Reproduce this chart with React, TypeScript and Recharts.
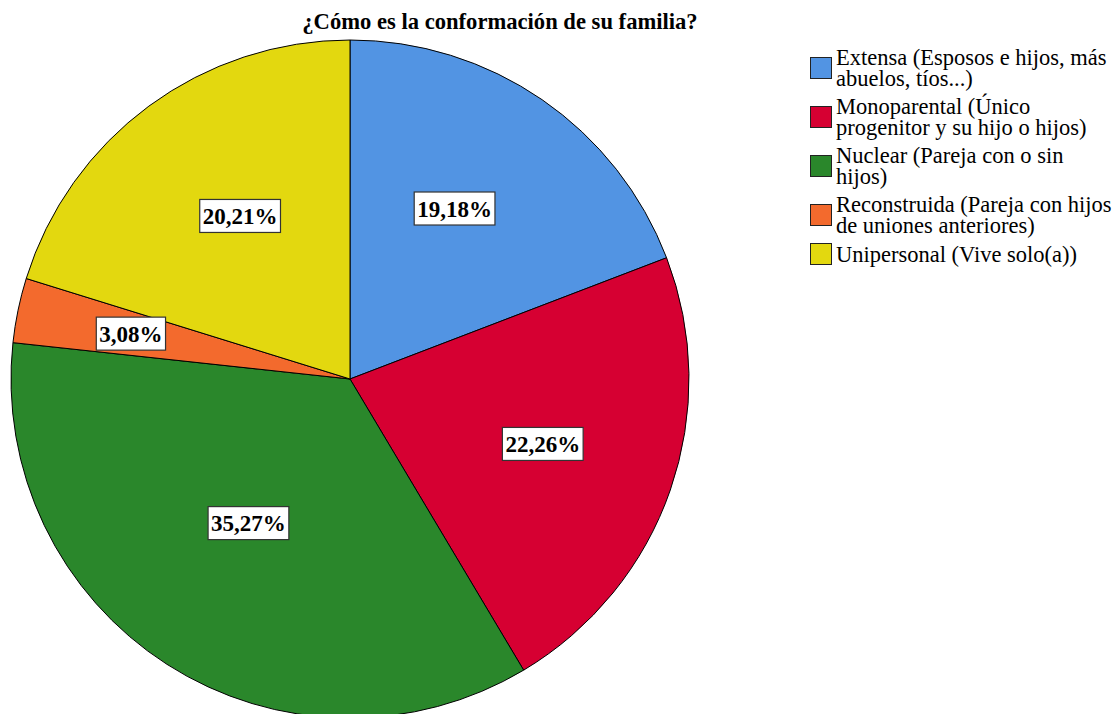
import React from 'react';
import { PieChart, Pie, Cell } from 'recharts';

const categories = [
  'Extensa (Esposos e hijos, más abuelos, tíos...)',
  'Monoparental (Único progenitor y su hijo o hijos)',
  'Nuclear (Pareja con o sin hijos)',
  'Reconstruida (Pareja con hijos de uniones anteriores)',
  'Unipersonal (Vive solo(a))',
];
const percents = [19.18, 22.26, 35.27, 3.08, 20.21];
const percentLabels = ['19,18%', '22,26%', '35,27%', '3,08%', '20,21%'];
const colors = ['#5294E3', '#D60032', '#2A872B', '#F36A2D', '#E3D80F'];

const TITLE = '¿Cómo es la conformación de su familia?';
const FONT = '"Liberation Serif", "Times New Roman", serif';

// label placement tweaks (fraction of radius, degrees), SPSS puts them a bit unevenly
const LABEL_R = [0.59, 0.6, 0.52, 0.66, 0.58];
const LABEL_NUDGE = [3, 0.5, -2.5, 0, -2.4];

const chartData = categories.map((name, i) => ({
  name,
  value: percents[i],
  label: percentLabels[i],
}));

// rough bold Times widths, em units
const glyphW = (ch: string) => (ch === '%' ? 1 : ch === ',' ? 0.25 : 0.5);

const PctLabel: React.FC<any> = (props) => {
  const { cx, cy, midAngle, outerRadius, index } = props;
  const RAD = Math.PI / 180;
  const a = (midAngle + LABEL_NUDGE[index]) * RAD;
  const r = outerRadius * LABEL_R[index];
  const x = cx + r * Math.cos(a);
  const y = cy - r * Math.sin(a);
  const text = percentLabels[index];
  const fs = 23;
  const w = text.split('').reduce((s, c) => s + glyphW(c), 0) * fs + 6;
  const h = 33;
  return (
    <g>
      <rect x={x - w / 2} y={y - h / 2} width={w} height={h} fill="#fff" stroke="#333" strokeWidth={1.2} />
      <text x={x} y={y + 8} textAnchor="middle" fontFamily={FONT} fontWeight="bold" fontSize={fs} fill="#000">
        {text}
      </text>
    </g>
  );
};

const App: React.FC = () => {
  return (
    <div style={{ position: 'absolute', left: 0, top: 0, width: 1113, height: 714, background: '#fff', overflow: 'hidden' }}>
      <PieChart width={1113} height={714} margin={{ top: 0, right: 0, bottom: 0, left: 0 }} style={{ position: 'absolute', left: 0, top: 0 }}>
        <Pie
          data={chartData}
          dataKey="value"
          nameKey="name"
          cx={350}
          cy={379}
          outerRadius={339}
          startAngle={90}
          endAngle={-270}
          stroke="#000"
          strokeWidth={1}
          label={<PctLabel />}
          labelLine={false}
          isAnimationActive={false}
        >
          {chartData.map((d, i) => (
            <Cell key={d.name} fill={colors[i]} />
          ))}
        </Pie>
      </PieChart>
      <div
        style={{
          position: 'absolute', left: 0, width: 1000, top: 8, textAlign: 'center',
          fontFamily: FONT, fontWeight: 'bold', fontSize: 22.6, lineHeight: '28px', color: '#000',
        }}
      >
        {TITLE}
      </div>
      <div style={{ position: 'absolute', left: 810, top: 47, fontFamily: FONT, fontSize: 22.5, lineHeight: '21px', color: '#000' }}>
        {categories.map((c, i) => (
          <div key={c} style={{ display: 'flex', alignItems: 'center', marginBottom: 7 }}>
            <div style={{ width: 22, height: 22, background: colors[i], border: '1px solid #222', boxSizing: 'border-box', flex: 'none' }} />
            <div style={{ width: 278, marginLeft: 4, fontFamily: FONT }}>{c}</div>
          </div>
        ))}
      </div>
    </div>
  );
};

export default App;
